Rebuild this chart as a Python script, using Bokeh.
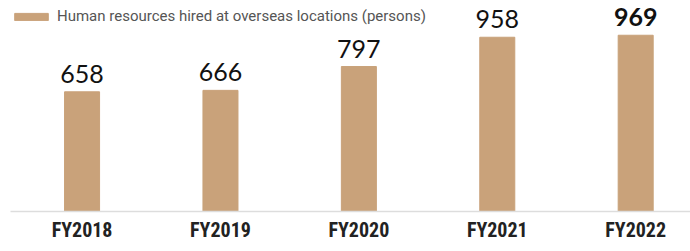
from bokeh.plotting import figure
from bokeh.models import ColumnDataSource, FixedTicker, Range1d, Legend, LegendItem
from bokeh.core.properties import value
from bokeh.embed import file_html
from bokeh.resources import INLINE

categories = ["FY2018", "FY2019", "FY2020", "FY2021", "FY2022"]
hires = [658, 666, 797, 958, 969]
label_weights = ["normal", "normal", "normal", "normal", "bold"]
series_name = "Human resources hired at overseas locations (persons)"

xs = list(range(len(categories)))
src = ColumnDataSource(dict(x=xs, y=hires, lab=[str(v) for v in hires], fw=label_weights))

p = figure(width=690, height=251, output_backend="svg", toolbar_location=None,
           x_range=Range1d(-0.517, 4.396), y_range=Range1d(0, 1160),
           min_border_left=10, min_border_right=0, min_border_top=0, min_border_bottom=40,
           y_axis_location=None)
p.outline_line_color = None
p.xgrid.visible = False
p.ygrid.visible = False

bar_color = "#c9a27a"
r = p.vbar(x="x", top="y", width=0.253, bottom=0, source=src, color=bar_color)

p.text(x="x", y="y", text="lab", source=src, text_align="center", text_baseline="bottom",
       y_offset=-9, text_font=value("Lato"), text_font_size="25px", text_color="#111111",
       text_font_style="fw")

ax = p.xaxis[0]
ax.ticker = FixedTicker(ticks=xs)
ax.major_label_overrides = {i: c for i, c in zip(xs, categories)}
ax.major_tick_line_color = None
ax.minor_tick_line_color = None
ax.axis_line_color = "#dddddd"
ax.axis_line_width = 1.5
ax.major_label_text_font = "'Liberation Sans Narrow', 'Roboto Condensed', 'DejaVu Sans Condensed', Roboto"
ax.major_label_text_font_style = "bold"
ax.major_label_text_font_size = "20px"
ax.major_label_text_color = "#222222"
ax.major_label_standoff = 0

legend = Legend(items=[LegendItem(label=series_name, renderers=[r])], location=(0, 186),
                margin=0, padding=0, glyph_width=42, glyph_height=9, label_standoff=5,
                label_text_font="Roboto", label_text_font_size="15px", label_text_color="#555555",
                border_line_color=None, background_fill_alpha=0)
p.add_layout(legend)

open("out.html", "w").write(file_html(p, INLINE))
